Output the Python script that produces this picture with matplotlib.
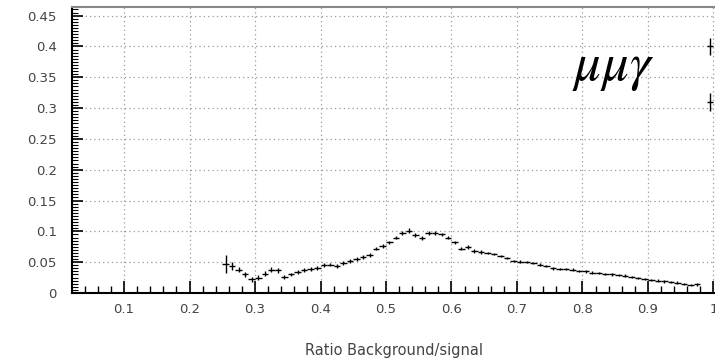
import matplotlib
matplotlib.use('Agg')
import matplotlib.pyplot as plt
from matplotlib.ticker import MultipleLocator

# bin centres (width 0.01) and contents
ratio = [0.255, 0.265, 0.275, 0.285, 0.295, 0.305, 0.315, 0.325, 0.335, 0.345,
         0.355, 0.365, 0.375, 0.385, 0.395, 0.405, 0.415, 0.425, 0.435, 0.445,
         0.455, 0.465, 0.475, 0.485, 0.495, 0.505, 0.515, 0.525, 0.535, 0.545,
         0.555, 0.565, 0.575, 0.585, 0.595, 0.605, 0.615, 0.625, 0.635, 0.645,
         0.655, 0.665, 0.675, 0.685, 0.695, 0.705, 0.715, 0.725, 0.735, 0.745,
         0.755, 0.765, 0.775, 0.785, 0.795, 0.805, 0.815, 0.825, 0.835, 0.845,
         0.855, 0.865, 0.875, 0.885, 0.895, 0.905, 0.915, 0.925, 0.935, 0.945,
         0.955, 0.965, 0.975, 0.995, 0.995]
value = [0.047, 0.044, 0.038, 0.030, 0.022, 0.025, 0.031, 0.038, 0.037, 0.026,
         0.030, 0.034, 0.037, 0.039, 0.040, 0.045, 0.046, 0.044, 0.049, 0.052,
         0.055, 0.058, 0.062, 0.072, 0.076, 0.082, 0.090, 0.097, 0.101, 0.094,
         0.089, 0.097, 0.097, 0.095, 0.090, 0.082, 0.072, 0.075, 0.068, 0.066,
         0.065, 0.063, 0.060, 0.057, 0.052, 0.051, 0.050, 0.049, 0.046, 0.044,
         0.040, 0.039, 0.039, 0.038, 0.036, 0.035, 0.033, 0.032, 0.031, 0.030,
         0.029, 0.028, 0.026, 0.024, 0.023, 0.021, 0.020, 0.019, 0.018, 0.017,
         0.015, 0.013, 0.014, 0.400, 0.310]
error = [0.015, 0.006, 0.004, 0.004, 0.004, 0.004, 0.004, 0.004, 0.004, 0.003,
         0.003, 0.003, 0.003, 0.003, 0.003, 0.003, 0.003, 0.003, 0.003, 0.003,
         0.003, 0.003, 0.003, 0.003, 0.003, 0.003, 0.003, 0.003, 0.004, 0.003,
         0.003, 0.003, 0.003, 0.003, 0.003, 0.003, 0.003, 0.003, 0.003, 0.003,
         0.002, 0.002, 0.002, 0.002, 0.002, 0.002, 0.002, 0.002, 0.002, 0.002,
         0.002, 0.002, 0.002, 0.002, 0.002, 0.002, 0.002, 0.002, 0.002, 0.002,
         0.002, 0.002, 0.002, 0.002, 0.002, 0.002, 0.002, 0.002, 0.002, 0.002,
         0.002, 0.002, 0.002, 0.014, 0.015]

plt.rcParams['mathtext.fontset'] = 'stix'

fig = plt.figure(figsize=(7.15, 3.58), dpi=100)
ax = fig.add_axes([0.1007, 0.1816, 0.8993, 0.7989])

ax.errorbar(ratio, value, yerr=error, xerr=0.005, fmt='none',
            ecolor='black', elinewidth=1.0, capsize=0)

ax.set_xlim(0.0206, 1.0023)
ax.set_ylim(0, 0.464)

ax.xaxis.set_minor_locator(MultipleLocator(0.02))
ax.yaxis.set_minor_locator(MultipleLocator(0.005))
ax.set_xticks([0.1, 0.2, 0.3, 0.4, 0.5, 0.6, 0.7, 0.8, 0.9, 1.0])
ax.set_xticklabels(['0.1', '0.2', '0.3', '0.4', '0.5', '0.6', '0.7', '0.8', '0.9', '1'])
ax.set_yticks([0, 0.05, 0.1, 0.15, 0.2, 0.25, 0.3, 0.35, 0.4, 0.45])
ax.set_yticklabels(['0', '0.05', '0.1', '0.15', '0.2', '0.25', '0.3', '0.35', '0.4', '0.45'])

ax.tick_params(axis='both', which='both', direction='in', colors='black',
               labelcolor='#444444', labelsize=9.5)
ax.tick_params(axis='x', which='major', length=9, width=1.2, pad=7)
ax.tick_params(axis='x', which='minor', length=5, width=1.0)
ax.tick_params(axis='y', which='major', length=8, width=1.2, pad=11)
ax.tick_params(axis='y', which='minor', length=4, width=0.8)
ax.tick_params(top=False, right=False)

ax.grid(True, which='major', color='#999999', linestyle=(0, (1, 2.5)), linewidth=0.9)

ax.spines['left'].set_linewidth(1.5)
ax.spines['bottom'].set_linewidth(1.5)
ax.spines['top'].set_color('#888888')
ax.spines['top'].set_linewidth(1.5)
ax.spines['right'].set_visible(False)

ax.set_xlabel('Ratio Background/signal', fontsize=10.5, color='#444444', labelpad=20)

ax.text(0.784, 0.366, r'$\mu\mu\gamma$', fontsize=38, ha='left', va='center')

fig.savefig('out.png', dpi=100)
